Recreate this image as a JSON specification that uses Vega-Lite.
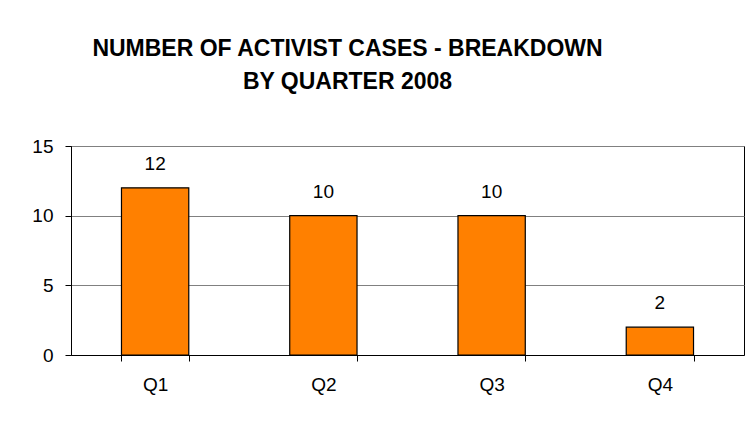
{
  "$schema": "https://vega.github.io/schema/vega-lite/v6.json",
  "width": 673,
  "height": 209,
  "autosize": "none",
  "padding": {"left": 71, "top": 146, "right": 8, "bottom": 69},
  "background": "white",
  "title": {
    "text": ["NUMBER OF ACTIVIST CASES - BREAKDOWN", "BY QUARTER 2008"],
    "font": "Liberation Sans",
    "fontSize": 23,
    "fontWeight": "bold",
    "color": "black",
    "lineHeight": 33,
    "anchor": "middle",
    "dx": -60,
    "baseline": "bottom",
    "offset": 20
  },
  "data": {
    "values": [
      {"quarter": "Q1", "cases": 12},
      {"quarter": "Q2", "cases": 10},
      {"quarter": "Q3", "cases": 10},
      {"quarter": "Q4", "cases": 2}
    ]
  },
  "encoding": {
    "x": {
      "field": "quarter",
      "type": "nominal",
      "sort": null,
      "scale": {"paddingInner": 0.6, "paddingOuter": 0.3},
      "axis": {
        "title": null,
        "labelAngle": 0,
        "labelFont": "Liberation Sans",
        "labelFontSize": 19,
        "labelColor": "black",
        "labelPadding": 14,
        "domainColor": "black",
        "tickColor": "black",
        "tickSize": 6,
        "tickBand": "extent",
        "grid": false
      }
    },
    "y": {
      "field": "cases",
      "type": "quantitative",
      "scale": {"domain": [0, 15], "nice": false},
      "axis": {
        "title": null,
        "values": [0, 5, 10, 15],
        "labelFont": "Liberation Sans",
        "labelFontSize": 19,
        "labelColor": "black",
        "labelPadding": 12,
        "domainColor": "black",
        "tickColor": "black",
        "tickSize": 6,
        "grid": true,
        "gridColor": "#808080",
        "gridOpacity": 1
      }
    }
  },
  "layer": [
    {"mark": {"type": "bar", "color": "#FF8000", "stroke": "black", "strokeWidth": 1.2}},
    {
      "mark": {"type": "text", "baseline": "alphabetic", "dy": -18, "font": "Liberation Sans", "fontSize": 19, "color": "black"},
      "encoding": {"text": {"field": "cases", "type": "quantitative"}}
    }
  ],
  "config": {
    "view": {"stroke": "black", "strokeWidth": 1}
  }
}
